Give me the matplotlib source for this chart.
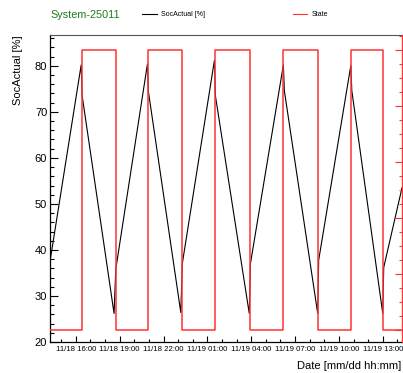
import matplotlib
matplotlib.use("Agg")
import matplotlib.pyplot as plt
import matplotlib.dates as mdates
import pandas as pd
from matplotlib.ticker import MultipleLocator, NullFormatter

plt.rcParams['font.family'] = ['Liberation Sans', 'DejaVu Sans']

# SocActual [%] vertices
soc_times = ["2023-11-18 14:14", "2023-11-18 16:22", "2023-11-18 16:26", "2023-11-18 18:37",
             "2023-11-18 18:44", "2023-11-18 20:54", "2023-11-18 20:58", "2023-11-18 23:11",
             "2023-11-18 23:17", "2023-11-19 01:29", "2023-11-19 01:33", "2023-11-19 03:52",
             "2023-11-19 03:57", "2023-11-19 06:12", "2023-11-19 06:16", "2023-11-19 08:33",
             "2023-11-19 08:37", "2023-11-19 10:49", "2023-11-19 10:53", "2023-11-19 13:00",
             "2023-11-19 13:04", "2023-11-19 14:19"]
soc_values = [37.5, 80.2, 73.5, 26.2,
              35.8, 80.4, 74.4, 26.4,
              37.0, 81.2, 73.5, 26.2,
              37.1, 80.2, 74.6, 26.2,
              37.8, 80.1, 74.6, 26.2,
              36.2, 53.5]

# State step series
state_times = ["2023-11-18 14:14", "2023-11-18 16:25", "2023-11-18 18:43", "2023-11-18 20:55",
               "2023-11-18 23:15", "2023-11-19 01:32", "2023-11-19 03:55", "2023-11-19 06:12",
               "2023-11-19 08:35", "2023-11-19 10:50", "2023-11-19 13:03", "2023-11-19 14:19"]
state_values = [0, 5, 0, 5, 0, 5, 0, 5, 0, 5, 0, 0]

title_text = "System-25011"
soc_label = "SocActual [%]"
state_label = "State"
xlabel = "Date [mm/dd hh:mm]"

W, H = 403, 373
fig = plt.figure(figsize=(W / 100, H / 100), dpi=100)
ax = fig.add_axes([50 / W, 1 - 342 / H, 352 / W, 307 / H])

st = pd.to_datetime(soc_times)
ax.plot(st, soc_values, color='black', lw=0.8)
ax.set_ylim(20, 86.7)
ax.set_xlim(pd.Timestamp("2023-11-18 14:14"), pd.Timestamp("2023-11-19 14:19"))

ax.yaxis.set_major_locator(MultipleLocator(10))
ax.yaxis.set_minor_locator(MultipleLocator(2))
ax.xaxis.set_major_locator(mdates.HourLocator(byhour=[1, 4, 7, 10, 13, 16, 19, 22]))
ax.xaxis.set_minor_locator(mdates.HourLocator())
ax.xaxis.set_major_formatter(mdates.DateFormatter("%m/%d %H:%M"))
ax.tick_params(axis='y', which='major', direction='in', length=6, width=0.8, labelsize=8, pad=2)
ax.tick_params(axis='y', which='minor', direction='in', length=3, width=0.8)
ax.tick_params(axis='x', which='major', direction='in', length=4.5, width=0.8, labelsize=5.6, pad=3)
ax.tick_params(axis='x', which='minor', direction='in', length=2.5, width=0.8)
ax.spines['top'].set_color('#555555')
for s in ['left', 'bottom']:
    ax.spines[s].set_color('black')
    ax.spines[s].set_linewidth(0.9)

ax2 = ax.twinx()
tt = pd.to_datetime(state_times)
ax2.step(tt, state_values, where='post', color='#ff3333', lw=1.1)
ax2.set_ylim(-0.223, 5.259)
ax2.yaxis.set_major_locator(MultipleLocator(1))
ax2.yaxis.set_minor_locator(MultipleLocator(0.25))
ax2.yaxis.set_major_formatter(NullFormatter())
ax2.tick_params(axis='y', which='major', direction='in', length=5, width=0.8, colors='#ff3333')
ax2.tick_params(axis='y', which='minor', direction='in', length=2.5, width=0.8, colors='#ff3333')
ax2.spines['right'].set_color('#ff3333')
ax2.spines['top'].set_visible(False)
ax2.spines['left'].set_visible(False)
ax2.spines['bottom'].set_visible(False)

fig.text(18 / W, 1 - 35 / H, soc_label, rotation=90, ha='center', va='top', fontsize=8)
fig.text(401 / W, 1 - 366 / H, xlabel, ha='right', va='center', fontsize=8)
fig.text(50 / W, 1 - 15 / H, title_text, ha='left', va='center', fontsize=7.8, color='#1f7a1f')

fig.add_artist(plt.Line2D([142 / W, 157 / W], [1 - 14 / H, 1 - 14 / H], color='black', lw=0.8))
fig.text(161 / W, 1 - 14 / H, soc_label, ha='left', va='center', fontsize=5)
fig.add_artist(plt.Line2D([293 / W, 307 / W], [1 - 14 / H, 1 - 14 / H], color='#ff3333', lw=0.8))
fig.text(312 / W, 1 - 14 / H, state_label, ha='left', va='center', fontsize=5)

fig.savefig("out.png", dpi=100)
